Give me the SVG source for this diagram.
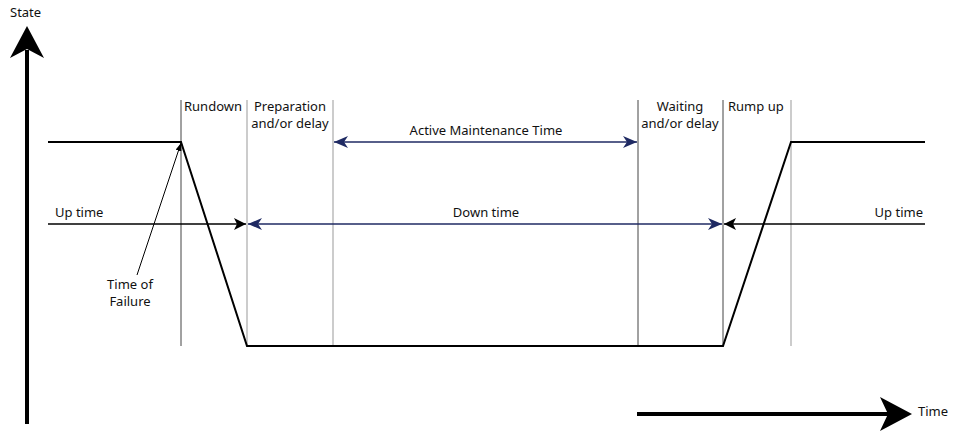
<svg xmlns="http://www.w3.org/2000/svg" width="954" height="435" viewBox="0 0 954 435">
<defs>
<style>
text{font-family:"Noto Sans","Open Sans","DejaVu Sans",sans-serif;font-size:13px;fill:#111}
.mid{text-anchor:middle}
.v{stroke:#444;stroke-width:1;fill:none}
.vg{stroke:#999;stroke-width:1;fill:none}
.blk{stroke:#000;stroke-width:2;fill:none}
.navy{stroke:#1f2a63;stroke-width:1.5;fill:none}
</style>
<marker id="ab" viewBox="0 0 12 12" refX="12" refY="6" markerWidth="12" markerHeight="12" markerUnits="userSpaceOnUse" orient="auto-start-reverse"><path d="M0,0 L12,6 L0,12 L3,6 Z" fill="#000"/></marker>
<marker id="an" viewBox="0 0 14 12" refX="14" refY="6" markerWidth="14" markerHeight="12" markerUnits="userSpaceOnUse" orient="auto-start-reverse"><path d="M0,0 L14,6 L0,12 L4,6 Z" fill="#1f2a63"/></marker>
<marker id="af" viewBox="0 0 8 6" refX="8" refY="3" markerWidth="8" markerHeight="6" markerUnits="userSpaceOnUse" orient="auto"><path d="M0,0 L8,3 L0,6 Z" fill="#000"/></marker>
</defs>
<g id="axes">
<line x1="27" y1="424" x2="27" y2="50" stroke="#000" stroke-width="4"/>
<path d="M27,26 L44,58 L27,49 L10,58 Z" fill="#000"/>
<line x1="637" y1="414" x2="890" y2="414" stroke="#000" stroke-width="4"/>
<path d="M912,414 L880,397 L888,414 L880,431 Z" fill="#000"/>
<text x="10" y="17">State</text>
<text x="918" y="416">Time</text>
</g>
<g id="phase-lines">
<line class="v" x1="181" y1="100" x2="181" y2="346"/>
<line class="vg" x1="247" y1="100" x2="247" y2="346"/>
<line class="vg" x1="333" y1="100" x2="333" y2="346"/>
<line class="v" x1="638" y1="100" x2="638" y2="346"/>
<line class="v" x1="723" y1="100" x2="723" y2="346"/>
<line class="vg" x1="791" y1="100" x2="791" y2="346"/>
</g>
<g id="state-curve">
<polyline class="blk" points="48,142 181,142 247,346 723,346 791,142 925,142"/>
</g>
<g id="connectors">
<line x1="48" y1="224" x2="246" y2="224" stroke="#000" stroke-width="1.5" marker-end="url(#ab)"/>
<line x1="925" y1="224" x2="724" y2="224" stroke="#000" stroke-width="1.5" marker-end="url(#ab)"/>
<line class="navy" x1="248" y1="224" x2="722" y2="224" marker-start="url(#an)" marker-end="url(#an)"/>
<line class="navy" x1="334" y1="142" x2="637" y2="142" marker-start="url(#an)" marker-end="url(#an)"/>
<line x1="137" y1="275" x2="181" y2="143" stroke="#000" stroke-width="1" marker-end="url(#af)"/>
</g>
<g id="labels">
<text x="184" y="111">Rundown</text>
<text x="254" y="111">Preparation</text>
<text x="290" y="128" class="mid">and/or delay</text>
<text x="486" y="135" class="mid">Active Maintenance Time</text>
<text x="680" y="111" class="mid">Waiting</text>
<text x="680" y="128" class="mid">and/or delay</text>
<text x="728" y="111">Rump up</text>
<text x="55" y="217">Up time</text>
<text x="923" y="217" text-anchor="end">Up time</text>
<text x="486" y="217" class="mid">Down time</text>
<text x="130" y="289" class="mid">Time of</text>
<text x="130" y="306" class="mid">Failure</text>
</g>
</svg>
